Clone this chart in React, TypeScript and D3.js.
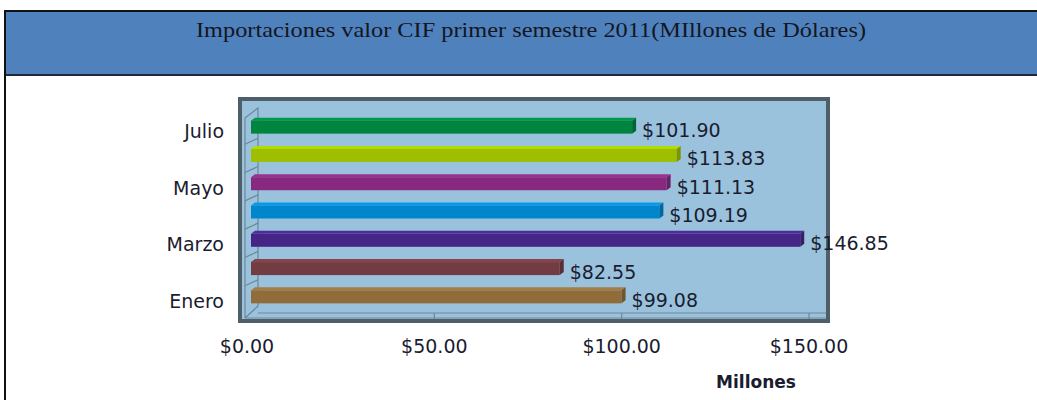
import React, {useEffect, useRef} from 'react'
import * as d3 from 'd3'

const width = 1037
const height = 400

const months = ['Enero', 'Febrero', 'Marzo', 'Abril', 'Mayo', 'Junio', 'Julio']
const values = [99.08, 82.55, 146.85, 109.19, 111.13, 113.83, 101.9]
const barColors = ['#8f6c3a', '#733b42', '#452686', '#0086cc', '#872a7f', '#9dbf00', '#00843f']
const shownLabels = ['Enero', 'Marzo', 'Mayo', 'Julio']
const axisTicks = [0, 50, 100, 150]

const title = 'Importaciones valor CIF primer semestre 2011(MIllones de Dólares)'

const App = () => {
  const ref = useRef<SVGSVGElement>(null)

  useEffect(() => {
    const svg = d3.select(ref.current)
    svg.selectAll('*').remove()

    // page frame + header band
    svg.append('rect').attr('x', 5).attr('y', 11).attr('width', width).attr('height', 64)
      .attr('fill', '#4f81bd')
    svg.append('line').attr('x1', 5).attr('x2', width).attr('y1', 11).attr('y2', 11)
      .attr('stroke', '#111').attr('stroke-width', 2)
    svg.append('line').attr('x1', 5).attr('x2', width).attr('y1', 75).attr('y2', 75)
      .attr('stroke', '#1e2a3a').attr('stroke-width', 2)
    svg.append('line').attr('x1', 5).attr('x2', 5).attr('y1', 10).attr('y2', height)
      .attr('stroke', '#111').attr('stroke-width', 2)

    svg.append('text')
      .attr('x', 531).attr('y', 37)
      .attr('text-anchor', 'middle')
      .attr('textLength', 670)
      .attr('lengthAdjust', 'spacingAndGlyphs')
      .style('font-family', '"Liberation Serif", serif')
      .style('font-size', '22px')
      .attr('fill', '#14161f')
      .text(title)

    // plot area
    svg.append('rect').attr('x', 240).attr('y', 99).attr('width', 588).attr('height', 222)
      .attr('fill', '#9ac2dc').attr('stroke', '#4e5f6a').attr('stroke-width', 4)

    const xAxis = d3.scaleLinear().domain([0, 150]).range([247, 809])
    const xBar = d3.scaleLinear().domain([0, 150]).range([251, 812])
    const y = d3.scaleBand<string>()
      .domain([...months].reverse())
      .range([113, 311])
      .paddingInner(0.54)
      .paddingOuter(0.27)

    const wall = svg.append('g').attr('stroke', '#6e8797').attr('fill', 'none').attr('stroke-width', 1.2)
    // left wall
    wall.append('path').attr('d', 'M245,318 L245,118 L258,108 L258,306 L245,318')
    // floor
    wall.append('path').attr('d', 'M245,318 L826,318 M258,313 L826,313')
    axisTicks.slice(1).forEach(t => {
      wall.append('line').attr('x1', xAxis(t)).attr('x2', xAxis(t)).attr('y1', 313).attr('y2', 319)
    })
    months.forEach(m => {
      const yy = (y(m) as number) + y.bandwidth() + (y.step() - y.bandwidth()) / 2
      if (yy < 305) wall.append('line').attr('x1', 245).attr('x2', 258).attr('y1', yy + 3).attr('y2', yy - 3)
    })

    const dx = 4
    const dy = -3
    const bars = svg.append('g')
    months.forEach((m, i) => {
      const y0 = y(m) as number
      const h = y.bandwidth()
      const x0 = xBar(0)
      const x1 = xBar(values[i])
      const c = d3.color(barColors[i])!
      const g = bars.append('g')
      // top face
      g.append('path')
        .attr('d', `M${x0},${y0} L${x0 + dx},${y0 + dy} L${x1 + dx},${y0 + dy} L${x1},${y0} Z`)
        .attr('fill', c.brighter(0.4).toString())
      // front face
      g.append('rect').attr('x', x0).attr('y', y0).attr('width', x1 - x0).attr('height', h)
        .attr('fill', barColors[i])
      // end face
      g.append('path')
        .attr('d', `M${x1},${y0} L${x1 + dx},${y0 + dy} L${x1 + dx},${y0 + h + dy} L${x1},${y0 + h} Z`)
        .attr('fill', c.darker(0.7).toString())

      svg.append('text')
        .attr('x', x1 + dx + 6)
        .attr('y', y0 + h / 2 + 3)
        .attr('dominant-baseline', 'central')
        .style('font-family', '"DejaVu Sans", sans-serif')
        .style('font-size', '19px')
        .attr('fill', '#1a1c30')
        .text(`$${values[i].toFixed(2)}`)
    })

    // category labels
    shownLabels.forEach(m => {
      svg.append('text')
        .attr('x', 224)
        .attr('y', (y(m) as number) + y.bandwidth() / 2 + 4)
        .attr('text-anchor', 'end')
        .attr('dominant-baseline', 'central')
        .style('font-family', '"DejaVu Sans", sans-serif')
        .style('font-size', '19px')
        .attr('fill', '#1a1c30')
        .text(m)
    })

    // x axis labels
    axisTicks.forEach(t => {
      svg.append('text')
        .attr('x', xAxis(t))
        .attr('y', 346)
        .attr('text-anchor', 'middle')
        .attr('dominant-baseline', 'central')
        .style('font-family', '"DejaVu Sans", sans-serif')
        .style('font-size', '19px')
        .attr('fill', '#1a1c30')
        .text(`$${t.toFixed(2)}`)
    })

    svg.append('text')
      .attr('x', 756)
      .attr('y', 382)
      .attr('text-anchor', 'middle')
      .attr('dominant-baseline', 'central')
      .style('font-family', '"DejaVu Sans", sans-serif')
      .style('font-size', '17px')
      .style('font-weight', 'bold')
      .attr('fill', '#1a1c30')
      .text('Millones')
  }, [])

  return (
    <svg
      ref={ref}
      width={width}
      height={height}
      style={{position: 'absolute', left: 0, top: 0, background: '#fff'}}
    />
  )
}

export default App
